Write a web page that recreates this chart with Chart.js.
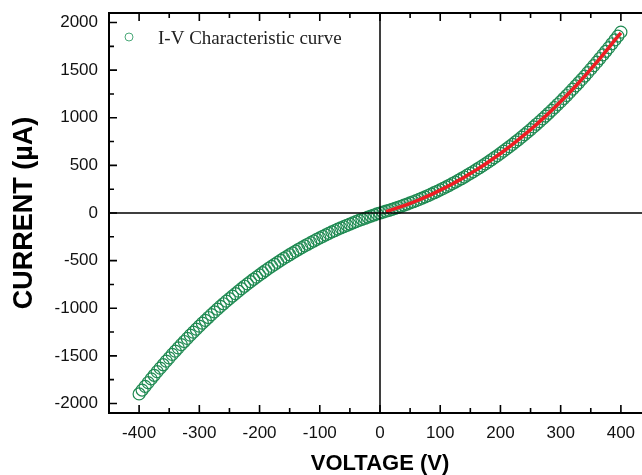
<!DOCTYPE html>
<html>
  <head>
    <meta charset="utf-8">
    <title>I-V Characteristic curve</title>
    <script src="https://cdn.jsdelivr.net/npm/chart.js@4.4.1/dist/chart.umd.min.js"></script>
    <style>
      html, body { margin: 0; padding: 0; overflow: hidden; background: #fff; }
      canvas { display: block; }
    </style>
  </head>
  <body>
    <canvas id="chart1" width="660" height="475"></canvas>
    <script>
      // measured points (V, uA)
      var voltage = [
        -400,-395,-390,-385,-380,-375,-370,-365,-360,-355,-350,-345,-340,-335,-330,-325,-320,-315,-310,-305,
        -300,-295,-290,-285,-280,-275,-270,-265,-260,-255,-250,-245,-240,-235,-230,-225,-220,-215,-210,-205,
        -200,-195,-190,-185,-180,-175,-170,-165,-160,-155,-150,-145,-140,-135,-130,-125,-120,-115,-110,-105,
        -100,-95,-90,-85,-80,-75,-70,-65,-60,-55,-50,-45,-40,-35,-30,-25,-20,-15,-10,-5,
        0,5,10,15,20,25,30,35,40,45,50,55,60,65,70,75,80,85,90,95,
        100,105,110,115,120,125,130,135,140,145,150,155,160,165,170,175,180,185,190,195,
        200,205,210,215,220,225,230,235,240,245,250,255,260,265,270,275,280,285,290,295,
        300,305,310,315,320,325,330,335,340,345,350,355,360,365,370,375,380,385,390,395,400
      ];
      var current = [
        -1900,-1859,-1820,-1781,-1742,-1704,-1666,-1629,-1593,-1556,-1521,-1485,-1451,-1416,-1382,-1349,-1316,-1283,-1251,-1219,
        -1188,-1157,-1127,-1097,-1067,-1038,-1010,-981,-953,-926,-899,-872,-846,-820,-794,-769,-745,-720,-696,-673,
        -650,-627,-604,-582,-561,-539,-518,-498,-477,-458,-438,-419,-400,-381,-363,-345,-328,-311,-294,-277,
        -261,-245,-230,-214,-199,-185,-170,-156,-143,-129,-116,-103,-91,-78,-66,-55,-43,-32,-21,-10,
        0,9,19,28,39,49,60,71,82,94,106,118,130,143,157,170,184,198,213,228,
        243,259,275,291,308,325,342,360,378,397,416,435,455,475,495,516,537,559,581,603,
        626,649,673,697,721,746,771,797,823,849,876,904,932,960,988,1018,1047,1077,1108,1139,
        1170,1202,1234,1267,1300,1334,1368,1403,1438,1474,1510,1547,1584,1622,1660,1698,1737,1777,1817,1858,1899
      ];

      // fitted curve (positive branch)
      var fitVoltage = [10,20,30,40,50,60,70,80,90,100,110,120,130,140,150,160,170,180,190,200,
                        210,220,230,240,250,260,270,280,290,300,310,320,330,340,350,360,370,380,390,400];
      var fitCurrent = [15,35,56,78,101,126,152,180,209,240,272,305,340,376,414,453,494,536,580,625,
                        672,720,770,822,875,931,988,1047,1108,1170,1234,1300,1368,1438,1510,1584,1660,1737,1817,1892];

      var xTicks = [-400,-300,-200,-100,0,100,200,300,400];
      var xMinorTicks = [-350,-250,-150,-50,50,150,250,350];
      var yTicks = [-2000,-1500,-1000,-500,0,500,1000,1500,2000];
      var yMinorTicks = [-1750,-1250,-750,-250,250,750,1250,1750];

      var seriesLabel = 'I-V Characteristic curve';
      var green = '#1f8a52';
      var tickFont = {family: '"Liberation Sans", Arial, sans-serif', size: 17};

      var framePlugin = {
        id: 'frame',
        afterDatasetsDraw: function(chart){
          var ctx = chart.ctx, a = chart.chartArea, sx = chart.scales.x, sy = chart.scales.y;
          ctx.save();
          ctx.strokeStyle = '#000';
          // zero lines
          ctx.lineWidth = 1.5;
          var x0 = sx.getPixelForValue(0), y0 = sy.getPixelForValue(0);
          ctx.beginPath();
          ctx.moveTo(a.left, y0); ctx.lineTo(a.right, y0);
          ctx.moveTo(x0, a.top); ctx.lineTo(x0, a.bottom);
          ctx.stroke();
          // inward ticks on all four sides
          function xt(v, len){
            var p = sx.getPixelForValue(v);
            ctx.moveTo(p, a.bottom); ctx.lineTo(p, a.bottom - len);
            ctx.moveTo(p, a.top); ctx.lineTo(p, a.top + len);
          }
          function yt(v, len){
            var p = sy.getPixelForValue(v);
            ctx.moveTo(a.left, p); ctx.lineTo(a.left + len, p);
            ctx.moveTo(a.right, p); ctx.lineTo(a.right - len, p);
          }
          ctx.lineWidth = 1.6;
          ctx.beginPath();
          xTicks.forEach(function(v){xt(v, 8);});
          xMinorTicks.forEach(function(v){xt(v, 5);});
          yTicks.forEach(function(v){yt(v, 8);});
          yMinorTicks.forEach(function(v){yt(v, 5);});
          ctx.stroke();
          ctx.lineWidth = 2;
          ctx.strokeRect(a.left, a.top, a.right - a.left, a.bottom - a.top);
          // legend
          ctx.lineWidth = 1;
          ctx.strokeStyle = '#4aa878';
          ctx.beginPath();
          ctx.arc(a.left + 20, a.top + 24, 4, 0, Math.PI * 2);
          ctx.stroke();
          ctx.fillStyle = '#222';
          ctx.font = '19px "Liberation Serif", "Times New Roman", serif';
          ctx.textBaseline = 'alphabetic';
          ctx.fillText(seriesLabel, a.left + 49, a.top + 31);
          ctx.restore();
        }
      };

      var points = voltage.map(function(v, i){ return {x: v, y: current[i]}; });
      var fitPoints = fitVoltage.map(function(v, i){ return {x: v, y: fitCurrent[i]}; });

      new Chart(document.getElementById('chart1').getContext('2d'), {
        type: 'scatter',
        data: {
          datasets: [
            {
              label: seriesLabel,
              data: points,
              showLine: false,
              pointStyle: 'circle',
              pointRadius: 6,
              pointBorderWidth: 1.2,
              borderColor: green,
              backgroundColor: 'rgba(255,255,255,0)',
              order: 2
            },
            {
              label: 'fit',
              data: fitPoints,
              showLine: true,
              pointRadius: 0,
              borderColor: '#ee1d23',
              borderWidth: 3.5,
              tension: 0.3,
              order: 1
            }
          ]
        },
        options: {
          responsive: false,
          animation: false,
          layout: {padding: {top: 13, right: 9, left: 0, bottom: 0}},
          plugins: {legend: {display: false}, tooltip: {enabled: false}},
          scales: {
            x: {
              type: 'linear', min: -450, max: 450,
              afterBuildTicks: function(s){ s.ticks = xTicks.map(function(v){ return {value: v}; }); },
              afterFit: function(s){ s.height = 62; },
              grid: {display: false, drawTicks: false},
              border: {display: false},
              ticks: {font: tickFont, color: '#111', padding: 10, maxRotation: 0, autoSkip: false,
                      callback: function(v){ return String(v); }},
              title: {display: true, text: 'VOLTAGE (V)', color: '#000', padding: 0,
                      font: {family: '"Liberation Sans", Arial, sans-serif', size: 22, weight: 'bold', lineHeight: 1}}
            },
            y: {
              type: 'linear', min: -2100, max: 2100,
              afterBuildTicks: function(s){ s.ticks = yTicks.map(function(v){ return {value: v}; }); },
              afterFit: function(s){ s.width = 109; s.paddingTop = 0; s.paddingBottom = 0; },
              grid: {display: false, drawTicks: false},
              border: {display: false},
              ticks: {font: tickFont, color: '#111', padding: 11, autoSkip: false,
                      callback: function(v){ return String(v); }},
              title: {display: true, text: 'CURRENT (\u00b5A)', color: '#000', padding: {top: 11, bottom: 0},
                      font: {family: '"Liberation Sans", Arial, sans-serif', size: 27, weight: 'bold', lineHeight: 1}}
            }
          }
        },
        plugins: [framePlugin]
      });
    </script>
  </body>
</html>
